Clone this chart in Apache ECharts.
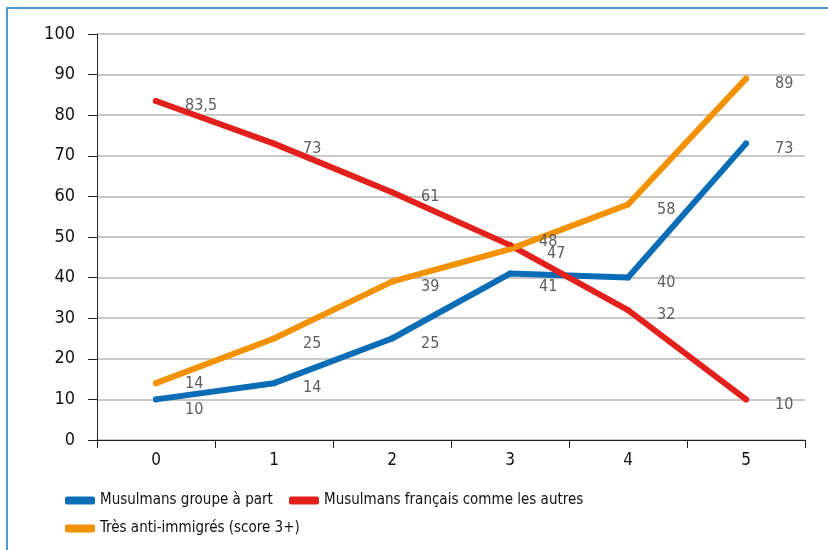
<!DOCTYPE html>
<html>
<head>
<meta charset="utf-8">
<script src="https://cdn.jsdelivr.net/npm/echarts@6/dist/echarts.min.js"></script>
<style>
  html, body { margin: 0; padding: 0; background: #fff; }
  #chart { width: 828px; height: 550px; }
</style>
</head>
<body>
<div id="chart"></div>
<script>
  // categories (score)
  var categories = ['0', '1', '2', '3', '4', '5'];
  // series values
  var groupeAPart = [10, 14, 25, 41, 40, 73];
  var commeLesAutres = [83.5, 73, 61, 48, 32, 10];
  var antiImmigres = [14, 25, 39, 47, 58, 89];

  var nameBlue = 'Musulmans groupe à part';
  var nameRed = 'Musulmans français comme les autres';
  var nameOrange = 'Très anti-immigrés (score 3+)';

  var font = '"Liberation Sans Narrow", "DejaVu Sans Condensed", sans-serif';

  // a few labels sit a little off the usual place
  var labelShift = {
    blue: { 0: [0, 10], 3: [0, 13] },
    red: { 3: [0, -3] },
    orange: { 0: [0, 1], 3: [8, 5] }
  };

  function lineSeries(key, name, data, color) {
    var items = data.map(function (v, i) {
      var item = { value: v };
      if (labelShift[key][i]) item.label = { offset: labelShift[key][i] };
      return item;
    });
    return {
      name: name,
      type: 'line',
      data: items,
      symbol: 'circle',
      symbolSize: 6,
      showSymbol: true,
      itemStyle: { color: color },
      color: color,
      lineStyle: { width: 6, color: color, cap: 'round', join: 'round' },
      label: {
        show: true,
        position: 'right',
        distance: 26,
        offset: [0, 5],
        color: '#5c5c5c',
        fontSize: 16,
        fontFamily: font,
        formatter: function (p) { return String(p.value).replace('.', ','); }
      },
      emphasis: { disabled: true }
    };
  }

  var chart = echarts.init(document.getElementById('chart'));
  var option = {
    animation: false,
    textStyle: { fontFamily: font },
    graphic: [{
      type: 'rect',
      shape: { x: 7, y: 8, width: 900, height: 700 },
      style: { fill: 'none', stroke: '#4d9ad6', lineWidth: 2 },
      silent: true
    }],
    grid: { left: 97, right: 23, top: 34, bottom: 110 },
    legend: [{
      left: 60, top: 488,
      data: [nameBlue],
      itemWidth: 30, itemHeight: 8,
      icon: 'roundRect',
      textStyle: { fontSize: 15, color: '#111', fontFamily: font }
    }, {
      left: 284, top: 488,
      data: [nameRed],
      itemWidth: 30, itemHeight: 8,
      icon: 'roundRect',
      textStyle: { fontSize: 15, color: '#111', fontFamily: font }
    }, {
      left: 60, top: 516,
      data: [nameOrange],
      itemWidth: 30, itemHeight: 8,
      icon: 'roundRect',
      textStyle: { fontSize: 15, color: '#111', fontFamily: font }
    }],
    xAxis: {
      type: 'category',
      data: categories,
      axisLine: { lineStyle: { color: '#222', width: 1 } },
      axisTick: { show: true, length: 8, lineStyle: { color: '#222' } },
      axisLabel: { color: '#111', fontSize: 17, margin: 12, fontFamily: font }
    },
    yAxis: {
      type: 'value',
      min: 0, max: 100, interval: 10,
      axisLine: { show: true, lineStyle: { color: '#222', width: 1 } },
      axisTick: { show: true, length: 9, lineStyle: { color: '#222' } },
      axisLabel: { color: '#111', fontSize: 18, margin: 22, fontFamily: font },
      splitLine: { lineStyle: { color: '#c8c8c8', width: 2 } }
    },
    series: [
      lineSeries('blue', nameBlue, groupeAPart, '#0a6db5'),
      lineSeries('red', nameRed, commeLesAutres, '#e3211c'),
      lineSeries('orange', nameOrange, antiImmigres, '#f39200')
    ]
  };
  chart.setOption(option);
</script>
</body>
</html>
